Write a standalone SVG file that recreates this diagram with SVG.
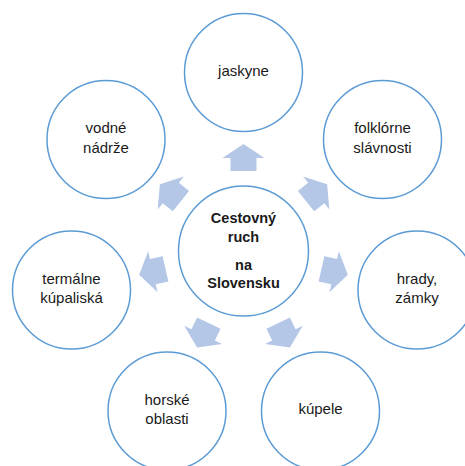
<svg xmlns="http://www.w3.org/2000/svg" width="465" height="466" viewBox="0 0 465 466">
<style>
.node{fill:#ffffff;stroke:#5B9BD5;stroke-width:1.5}
.t{font-family:"Liberation Sans",Arial,sans-serif;font-size:15px;fill:#1a1a1a;text-anchor:middle}
.b{font-family:"Liberation Sans",Arial,sans-serif;font-size:14.5px;font-weight:bold;fill:#1a1a1a;text-anchor:middle}
.arr{fill:#B4C7E7}
</style>
<defs>
<polygon id="arrow" class="arr" points="-13,-80 -13,-93 -21,-93 0,-107 21,-93 13,-93 13,-80"/>
</defs>
<rect width="465" height="466" fill="#ffffff"/>
<g id="connectors">
<use href="#arrow" transform="translate(243.5,251) rotate(0)"/>
<use href="#arrow" transform="translate(243.5,251) rotate(51.43)"/>
<use href="#arrow" transform="translate(243.5,251) rotate(102.86)"/>
<use href="#arrow" transform="translate(243.5,251) rotate(154.29)"/>
<use href="#arrow" transform="translate(243.5,251) rotate(205.71)"/>
<use href="#arrow" transform="translate(243.5,251) rotate(257.14)"/>
<use href="#arrow" transform="translate(243.5,251) rotate(308.57)"/>
</g>
<g id="center">
<circle class="node" cx="243.5" cy="251" r="65"/>
<text class="b" x="243.5" y="223">Cestovný</text>
<text class="b" x="243.5" y="242">ruch</text>
<text class="b" x="243.5" y="270">na</text>
<text class="b" x="243.5" y="288">Slovensku</text>
</g>
<g id="jaskyne">
<circle class="node" cx="243.5" cy="72.5" r="59"/>
<text class="t" x="243.5" y="76">jaskyne</text>
</g>
<g id="folklorne">
<circle class="node" cx="382.5" cy="139.5" r="59"/>
<text class="t" x="382.5" y="133">folklórne</text>
<text class="t" x="382.5" y="152.5">slávnosti</text>
</g>
<g id="hrady">
<circle class="node" cx="417" cy="290" r="59"/>
<text class="t" x="417" y="284">hrady,</text>
<text class="t" x="417" y="303">zámky</text>
</g>
<g id="kupele">
<circle class="node" cx="320.5" cy="411" r="59"/>
<text class="t" x="320.5" y="414">kúpele</text>
</g>
<g id="horske">
<circle class="node" cx="167" cy="411" r="59"/>
<text class="t" x="167" y="405">horské</text>
<text class="t" x="167" y="423.5">oblasti</text>
</g>
<g id="termalne">
<circle class="node" cx="71.5" cy="290" r="59"/>
<text class="t" x="71.5" y="284">termálne</text>
<text class="t" x="71.5" y="302.5">kúpaliská</text>
</g>
<g id="vodne">
<circle class="node" cx="106" cy="139.5" r="59"/>
<text class="t" x="106" y="133">vodné</text>
<text class="t" x="106" y="152.5">nádrže</text>
</g>
</svg>
